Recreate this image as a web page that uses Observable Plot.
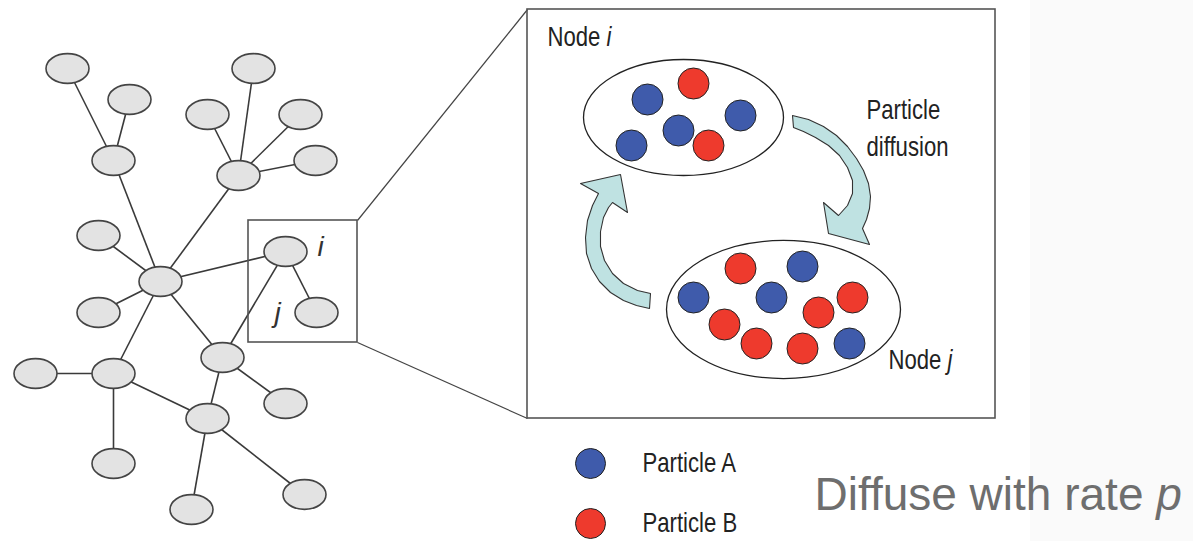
<!DOCTYPE html>
<html><head><meta charset="utf-8">
<script src="https://cdn.jsdelivr.net/npm/d3@7"></script>
<script src="https://cdn.jsdelivr.net/npm/@observablehq/plot@0.6"></script>
<style>html,body{margin:0;padding:0;background:#fff;} #chart svg{display:block;background:#fff}</style>
</head><body><div id="chart"></div>
<script>
// ---- network nodes (small grey ellipses) ----
const nodeX = [67,129,113,253,207,300,315,238,98,160,285,98,316,222,113,35,207,285,113,191,304];
const nodeY = [68,99,160,68,114,114,160,175,235,281,251,312,312,357,373,373,418,403,463,509,494];
// ---- network edges (indices into nodes) ----
const edgeFrom = [0,1,2,4,3,5,6,7,8,9,11,9,9,13,10,14,14,14,13,13,16,16];
const edgeTo   = [2,2,9,7,7,7,7,9,9,10,9,14,13,10,12,15,18,16,16,17,19,20];
// ---- zoom boxes and connector lines ----
const boxX1 = [248,527], boxX2 = [357,995], boxY1 = [220,9], boxY2 = [342,418];
const connX1 = [357,357], connY1 = [220,342], connX2 = [527,527], connY2 = [9,418];
// ---- background band on the right ----
const bandX1 = [1030], bandX2 = [1193], bandY1 = [0], bandY2 = [541];
// ---- enlarged nodes i and j ----
const bigNodeName = ["i","j"];
const bigNodeX = [683,783];
const bigNodeY = [117,309];
const bigNodeR = [100,117];
// ---- particles ----
const partX = [647,693,740,678,631,708, 740,802,693,771,852,818,724,756,802,849];
const partY = [99,83,115,130,145,145, 268,266,297,297,297,312,324,343,348,343];
const partType = ["A","B","A","A","A","B", "B","A","A","A","B","B","B","B","B","A"];
// ---- legend ----
const legendType = ["A","B"];
const legendLabel = ["Particle A","Particle B"];
const legendY = [463,523];
const legendDotX = 590, legendTextX = 642;
// ---- curved arrows (outline points) ----
const arrowRightX = [792,808,823,836,847,856,863,868,870,869,866,862,869,828,823,838,847,852,852,847,839,828,815,803,793];
const arrowRightY = [115,119,126,135,146,158,170,183,196,208,219,228,244,233,202,215,205,193,180,167,155,145,137,131,127];
const arrowLeftX = [650,637,623,612,604,600,600,603,608,612,627,620,580,598,592,587,585,586,591,599,610,623,636,649];
const arrowLeftY = [293,290,283,273,260,246,231,217,207,202,212,174,183,193,205,220,237,253,268,281,292,300,305,308];
// ---- text labels ----
const labelPre   = ["Node ","Node ","Particle","diffusion"];
const labelItal  = ["i","j","",""];
const labelX     = [547,888,866,866];
const labelY     = [37,360,110,147];
const nodeLetter = ["i","j"];
const nodeLetterX = [320,277];
const nodeLetterY = [247,313];
const captionPre = ["Diffuse with rate "], captionItal = ["p"];
const captionX = [814], captionY = [495];

const colorA = "#3f5bab", colorB = "#ee3a2d";
const narrow = "NarrowLabel,'Liberation Sans',Arial,sans-serif";
const squeeze = 0.82;

function ellipseSymbol(aspect) {
  return {
    draw(context, size) {
      const rx = Math.sqrt(size / Math.PI), ry = rx * aspect, k = 0.5522847498;
      context.moveTo(rx, 0);
      context.bezierCurveTo(rx, ry * k, rx * k, ry, 0, ry);
      context.bezierCurveTo(-rx * k, ry, -rx, ry * k, -rx, 0);
      context.bezierCurveTo(-rx, -ry * k, -rx * k, -ry, 0, -ry);
      context.bezierCurveTo(rx * k, -ry, rx, -ry * k, rx, 0);
      context.closePath();
    }
  };
}

const nodes = nodeX.map((x, i) => ({x, y: nodeY[i]}));
const edges = edgeFrom.map((f, i) => ({x1: nodeX[f], y1: nodeY[f], x2: nodeX[edgeTo[i]], y2: nodeY[edgeTo[i]]}));
const boxes = boxX1.map((x1, i) => ({x1, x2: boxX2[i], y1: boxY1[i], y2: boxY2[i]}));
const conns = connX1.map((x1, i) => ({x1, y1: connY1[i], x2: connX2[i], y2: connY2[i]}));
const bands = bandX1.map((x1, i) => ({x1, x2: bandX2[i], y1: bandY1[i], y2: bandY2[i]}));
const bigNodes = bigNodeName.map((n, i) => ({n, x: bigNodeX[i], y: bigNodeY[i], r: bigNodeR[i]}));
const particles = partX.map((x, i) => ({x, y: partY[i], type: partType[i]}));
const legend = legendType.map((t, i) => ({type: t, label: legendLabel[i], y: legendY[i]}));
const arrowR = arrowRightX.map((x, i) => ({x, y: arrowRightY[i]}));
const arrowL = arrowLeftX.map((x, i) => ({x, y: arrowLeftY[i]}));
const labels = labelPre.map((p, i) => ({pre: p, ital: labelItal[i], x: labelX[i], y: labelY[i]}));
const letters = nodeLetter.map((t, i) => ({t, x: nodeLetterX[i], y: nodeLetterY[i]}));
const caption = captionPre.map((p, i) => ({pre: p, ital: captionItal[i], x: captionX[i], y: captionY[i]}));
const richTexts = [...labels, ...caption].filter(d => d.ital);

const arrowStyle = {x: "x", y: "y", curve: "linear-closed", fill: "#bfe2e2", stroke: "#333", strokeWidth: 1.1};

const chart = Plot.plot({
  width: 1193, height: 541,
  margin: 0,
  x: {domain: [0, 1193], range: [0, 1193], axis: null},
  y: {domain: [0, 541], range: [0, 541], axis: null},
  color: {domain: ["A","B"], range: [colorA, colorB]},
  style: {background: "#fff"},
  marks: [
    Plot.rect(bands, {x1: "x1", x2: "x2", y1: "y1", y2: "y2", fill: "#fafafa"}),
    Plot.link(edges, {x1: "x1", y1: "y1", x2: "x2", y2: "y2", stroke: "#3a3a3a", strokeWidth: 1.6}),
    Plot.link(conns, {x1: "x1", y1: "y1", x2: "x2", y2: "y2", stroke: "#444", strokeWidth: 1.2}),
    Plot.rect(boxes, {x1: "x1", x2: "x2", y1: "y1", y2: "y2", fill: "none", stroke: "#555", strokeWidth: 1.6}),
    Plot.dot(nodes, {x: "x", y: "y", r: 21.5, symbol: ellipseSymbol(0.69), fill: "#e3e3e3", stroke: "#444", strokeWidth: 1.6}),
    Plot.dot(bigNodes.slice(0,1), {x: "x", y: "y", r: 100, symbol: ellipseSymbol(0.58), fill: "#fff", stroke: "#222", strokeWidth: 1.3}),
    Plot.dot(bigNodes.slice(1), {x: "x", y: "y", r: 117, symbol: ellipseSymbol(0.59), fill: "#fff", stroke: "#222", strokeWidth: 1.3}),
    Plot.line(arrowR, arrowStyle),
    Plot.line(arrowL, arrowStyle),
    Plot.dot(particles, {x: "x", y: "y", r: 15.5, fill: "type", stroke: "#222", strokeWidth: 1}),
    Plot.dot(legend, {x: () => legendDotX, y: "y", r: 15, fill: "type", stroke: "#222", strokeWidth: 1}),
    Plot.text(legend, {x: () => legendTextX, y: "y", text: "label", textAnchor: "start", lineAnchor: "middle", fontSize: 27, fontFamily: narrow, fill: "#222"}),
    Plot.text(labels, {x: "x", y: "y", text: d => d.pre + d.ital, textAnchor: "start", lineAnchor: "middle", fontSize: 27, fontFamily: narrow, fill: "#222"}),
    Plot.text(letters, {x: "x", y: "y", text: "t", textAnchor: "middle", lineAnchor: "middle", fontSize: 28, fontStyle: "italic", fontFamily: "'Liberation Sans',Arial,sans-serif", fill: "#333"}),
    Plot.text(caption, {x: "x", y: "y", text: d => d.pre + d.ital, textAnchor: "start", lineAnchor: "middle", fontSize: 46, fontFamily: "'Liberation Sans',Arial,sans-serif", fill: "#6e6e6e"})
  ]
});

// italic final letters (Node i, Node j, rate p)
chart.querySelectorAll("text").forEach(t => {
  const d = richTexts.find(r => r.pre + r.ital === t.textContent && t.childElementCount === 0);
  if (!d) return;
  t.textContent = "";
  t.appendChild(document.createTextNode(d.pre));
  const ts = document.createElementNS("http://www.w3.org/2000/svg", "tspan");
  ts.setAttribute("font-style", "italic");
  ts.textContent = d.ital;
  t.appendChild(ts);
  t.style.whiteSpace = "pre";
});
// condense the narrow labels horizontally
chart.querySelectorAll("g").forEach(g => {
  const ff = g.getAttribute("font-family");
  if (!ff || !ff.startsWith("NarrowLabel")) return;
  g.querySelectorAll("text").forEach(t => {
    const tr = t.getAttribute("transform");
    if (tr) t.setAttribute("transform", tr + ` scale(${squeeze},1)`);
    else {
      const x = +t.getAttribute("x") || 0, y = +t.getAttribute("y") || 0;
      t.removeAttribute("x"); t.removeAttribute("y");
      t.setAttribute("transform", `translate(${x},${y}) scale(${squeeze},1)`);
    }
  });
});

document.getElementById("chart").appendChild(chart);
</script>
</body></html>
